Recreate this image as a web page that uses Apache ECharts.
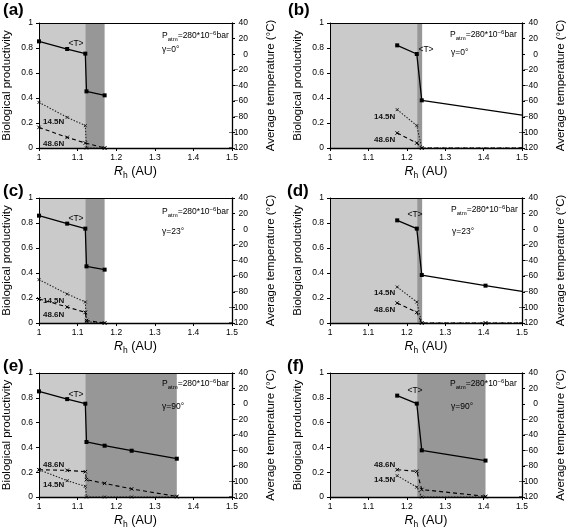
<!DOCTYPE html>
<html><head><meta charset="utf-8">
<script src="https://cdn.jsdelivr.net/npm/echarts@6/dist/echarts.min.js"></script>
<style>html,body{margin:0;padding:0;background:#fff}#c{width:568px;height:530px}</style>
</head><body><div id="c"></div>
<script>
// ---- tick / label data ----
const xTickMin = 1, xTickMax = 1.5, xTickStep = 0.1;
const prodMin = 0, prodMax = 1, prodStep = 0.2;
const tempMin = -120, tempMax = 40, tempStep = 20;
const panelLabels = ['(a)', '(b)', '(c)', '(d)', '(e)', '(f)'];
const gammaLabels = ['γ=0°', 'γ=0°', 'γ=23°', 'γ=23°', 'γ=90°', 'γ=90°'];

// ---- shaded zones: [light start, light end / dark start, dark end] (AU) ----
const zoneA = [1.0, 1.12, 1.17];
const zoneB = [1.0, 1.227, 1.24];
const zoneC = [1.0, 1.12, 1.17];
const zoneD = [1.0, 1.227, 1.24];
const zoneE = [1.0, 1.12, 1.357];
const zoneF = [1.0, 1.227, 1.405];

// ---- average temperature <T> (°C) ----
const tempA = [[1.0, 16.5], [1.073, 6.7], [1.12, 0.8], [1.123, -47.5], [1.17, -52.6]];
const tempB = [[1.175, 11.4], [1.226, 0.3], [1.239, -59], [1.5, -78]];
const tempC = [[1.0, 17.4], [1.073, 7.2], [1.12, 0.8], [1.123, -47.5], [1.17, -51.7]];
const tempD = [[1.175, 11.4], [1.226, 0.8], [1.239, -58.6], [1.405, -72.2], [1.5, -79.5]];
const tempE = [[1.0, 16.3], [1.073, 6.3], [1.12, 0.4], [1.123, -49], [1.17, -53.8], [1.24, -60.3], [1.357, -70.6]];
const tempF = [[1.175, 10.8], [1.226, 0.5], [1.239, -59.8], [1.405, -73]];

// ---- biological productivity at 14.5N ----
const p14A = [[1.0, 0.365], [1.073, 0.245], [1.12, 0.179], [1.123, 0.0], [1.17, 0.0]];
const p14B = [[1.175, 0.307], [1.226, 0.179], [1.239, 0.0], [1.5, 0.0]];
const p14C = [[1.0, 0.347], [1.073, 0.232], [1.12, 0.168], [1.123, 0.01], [1.17, 0.0]];
const p14D = [[1.175, 0.288], [1.226, 0.168], [1.239, 0.0], [1.405, 0.0], [1.5, 0.0]];
const p14E = [[1.0, 0.22], [1.073, 0.132], [1.12, 0.086], [1.123, 0.0], [1.17, 0.0], [1.24, 0.0], [1.357, 0.0]];
const p14F = [[1.175, 0.172], [1.226, 0.08], [1.239, 0.0], [1.405, 0.0]];

// ---- biological productivity at 48.6N ----
const p48A = [[1.0, 0.165], [1.073, 0.085], [1.12, 0.04], [1.17, 0.0]];
const p48B = [[1.175, 0.12], [1.226, 0.04], [1.239, 0.0], [1.5, 0.0]];
const p48C = [[1.0, 0.192], [1.073, 0.128], [1.12, 0.085], [1.123, 0.02], [1.17, 0.0]];
const p48D = [[1.175, 0.16], [1.226, 0.085], [1.239, 0.0], [1.405, 0.0], [1.5, 0.0]];
const p48E = [[1.0, 0.22], [1.073, 0.215], [1.12, 0.204], [1.123, 0.14], [1.17, 0.11], [1.24, 0.065], [1.357, 0.005]];
const p48F = [[1.175, 0.22], [1.226, 0.207], [1.239, 0.06], [1.405, 0.005]];

const zones = [zoneA, zoneB, zoneC, zoneD, zoneE, zoneF];
const temps = [tempA, tempB, tempC, tempD, tempE, tempF];
const p14s = [p14A, p14B, p14C, p14D, p14E, p14F];
const p48s = [p48A, p48B, p48C, p48D, p48E, p48F];

// ---- layout (pixels) ----
const gridPos = [[39, 23, 125], [330, 23, 125], [39, 198, 125], [330, 198, 125], [39, 373, 124], [330, 373, 124]];
const gridW = 193;
const letterPos = [[3, 2], [288, 2], [3, 183], [287, 183], [3, 358], [287, 358]];
const tLabelPos = [[76, 44], [426, 50], [76, 219], [415, 215], [76, 395], [415, 391]];
const n14Pos = [[43, 122], [374, 117], [43, 301], [374, 293], [43, 485], [374, 480]];
const n48Pos = [[43, 144], [374, 140], [43, 315], [374, 310], [43, 465], [374, 465]];
const pAtmPos = [[162, 36], [450, 35], [162, 212], [451, 210], [162, 384], [450, 384]];
const gammaPos = [[162, 50], [451, 53], [162, 232], [452, 232], [162, 407], [451, 407]];

const FONT = '"Liberation Sans", Arial, Helvetica, sans-serif';
const LIGHT = '#cacaca', DARK = '#979797';
const crossSym = 'path://M0,0L10,10M10,0L0,10';

const grids = [], xAxes = [], yAxes = [], series = [], graphics = [];

function withEndSymbols(arr) {
  return arr.map(d => d[0] >= xTickMax ? { value: d, symbol: 'none' } : d);
}
function minusFmt(v) { return v < 0 ? '\u2212' + Math.abs(v) : String(v); }

for (let i = 0; i < 6; i++) {
  const [l, t, h] = gridPos[i];
  grids.push({ left: l, top: t, width: gridW, height: h, containLabel: false });
  xAxes.push({
    gridIndex: i, type: 'value', min: xTickMin, max: xTickMax, interval: xTickStep, position: 'bottom', z: 6,
    axisLine: { show: true, onZero: false, lineStyle: { color: '#000', width: 1.3 } },
    axisTick: { show: true, length: 3, lineStyle: { color: '#000' } },
    axisLabel: { color: '#000', fontSize: 8.5, margin: 5, fontFamily: FONT },
    splitLine: { show: false },
    name: '{i|R}{s|h}{n| (AU)}', nameLocation: 'middle', nameGap: 16,
    nameTextStyle: {
      color: '#000', fontFamily: FONT,
      rich: {
        i: { fontStyle: 'italic', fontSize: 12.5, lineHeight: 16, fontFamily: FONT, color: '#000' },
        s: { fontSize: 8.5, verticalAlign: 'bottom', fontFamily: FONT, color: '#000' },
        n: { fontSize: 12.5, lineHeight: 16, fontFamily: FONT, color: '#000' }
      }
    }
  });
  xAxes.push({
    gridIndex: i, type: 'value', min: xTickMin, max: xTickMax, position: 'top', z: 6,
    axisLine: { show: true, onZero: false, lineStyle: { color: '#000', width: 1 } },
    axisTick: { show: false }, axisLabel: { show: false }, splitLine: { show: false }
  });
  yAxes.push({
    gridIndex: i, type: 'value', min: prodMin, max: prodMax, interval: prodStep, position: 'left', z: 6,
    axisLine: { show: true, onZero: false, lineStyle: { color: '#000', width: 1 } },
    axisTick: { show: true, length: 3, lineStyle: { color: '#000' } },
    axisLabel: { color: '#000', fontSize: 8.5, margin: 6, fontFamily: FONT },
    splitLine: { show: false },
    name: 'Biological productivity', nameLocation: 'middle', nameGap: 26, nameRotate: 90,
    nameTextStyle: { color: '#000', fontSize: 11.5, fontFamily: FONT }
  });
  yAxes.push({
    gridIndex: i, type: 'value', min: tempMin, max: tempMax, interval: tempStep, position: 'right', z: 6,
    axisLine: { show: true, onZero: false, lineStyle: { color: '#000', width: 1.3 } },
    axisTick: { show: true, length: 3, lineStyle: { color: '#000' } },
    axisLabel: { color: '#000', fontSize: 8.5, margin: 16, align: 'right', fontFamily: FONT, formatter: minusFmt },
    splitLine: { show: false },
    name: 'Average temperature (°C)', nameLocation: 'middle', nameGap: 33, nameRotate: 90,
    nameTextStyle: { color: '#000', fontSize: 11.5, fontFamily: FONT }
  });

  const z = zones[i];
  series.push({
    type: 'line', xAxisIndex: 2 * i, yAxisIndex: 2 * i, data: [], silent: true, z: 1,
    markArea: {
      silent: true,
      data: [
        [{ xAxis: z[0], itemStyle: { color: LIGHT } }, { xAxis: z[1] }],
        [{ xAxis: z[1], itemStyle: { color: DARK } }, { xAxis: z[2] }]
      ]
    }
  });
  series.push({
    name: '14.5N', type: 'line', xAxisIndex: 2 * i, yAxisIndex: 2 * i, data: withEndSymbols(p14s[i]), z: 3,
    symbol: crossSym, symbolSize: 3, showAllSymbol: true,
    lineStyle: { color: '#222', width: 1.1, type: [1.4, 1.6] },
    itemStyle: { color: '#222', borderColor: '#222', borderWidth: 1 }
  });
  series.push({
    name: '48.6N', type: 'line', xAxisIndex: 2 * i, yAxisIndex: 2 * i, data: withEndSymbols(p48s[i]), z: 3,
    symbol: crossSym, symbolSize: 3.5, showAllSymbol: true,
    lineStyle: { color: '#000', width: 1.1, type: [4, 3] },
    itemStyle: { color: '#000', borderColor: '#000', borderWidth: 1 }
  });
  series.push({
    name: '<T>', type: 'line', xAxisIndex: 2 * i, yAxisIndex: 2 * i + 1, data: withEndSymbols(temps[i]), z: 4,
    symbol: 'rect', symbolSize: 4, showAllSymbol: true,
    lineStyle: { color: '#000', width: 1.3 },
    itemStyle: { color: '#000' }
  });

  graphics.push({ type: 'text', left: letterPos[i][0], top: letterPos[i][1], z: 10,
    style: { text: panelLabels[i], fontSize: 17, fontWeight: 'bold', fontFamily: FONT, fill: '#000' } });
  graphics.push({ type: 'text', x: tLabelPos[i][0], y: tLabelPos[i][1], z: 10,
    style: { text: '<T>', fontSize: 8.5, fontFamily: FONT, fill: '#000', align: 'center', verticalAlign: 'middle' } });
  graphics.push({ type: 'text', x: n14Pos[i][0], y: n14Pos[i][1], z: 10,
    style: { text: '14.5N', fontSize: 8, fontWeight: 'bold', fontFamily: FONT, fill: '#111', align: 'left', verticalAlign: 'middle' } });
  graphics.push({ type: 'text', x: n48Pos[i][0], y: n48Pos[i][1], z: 10,
    style: { text: '48.6N', fontSize: 8, fontWeight: 'bold', fontFamily: FONT, fill: '#111', align: 'left', verticalAlign: 'middle' } });
  graphics.push({ type: 'text', x: pAtmPos[i][0], y: pAtmPos[i][1], z: 10,
    style: {
      text: '{m|P}{s|atm}{m|=280*10}{u|−6}{m|bar}', align: 'left', verticalAlign: 'middle',
      rich: {
        m: { fontSize: 8.5, lineHeight: 12, fontFamily: FONT, fill: '#000' },
        s: { fontSize: 6, verticalAlign: 'bottom', fontFamily: FONT, fill: '#000' },
        u: { fontSize: 6, verticalAlign: 'top', fontFamily: FONT, fill: '#000' }
      }
    } });
  graphics.push({ type: 'text', x: gammaPos[i][0], y: gammaPos[i][1], z: 10,
    style: { text: gammaLabels[i], fontSize: 8.5, fontFamily: FONT, fill: '#000', align: 'left', verticalAlign: 'middle' } });
}

const chart = echarts.init(document.getElementById('c'), null, { renderer: 'canvas' });
chart.setOption({
  animation: false,
  backgroundColor: '#fff',
  textStyle: { fontFamily: FONT },
  grid: grids, xAxis: xAxes, yAxis: yAxes, series: series, graphic: graphics
});
</script></body></html>
